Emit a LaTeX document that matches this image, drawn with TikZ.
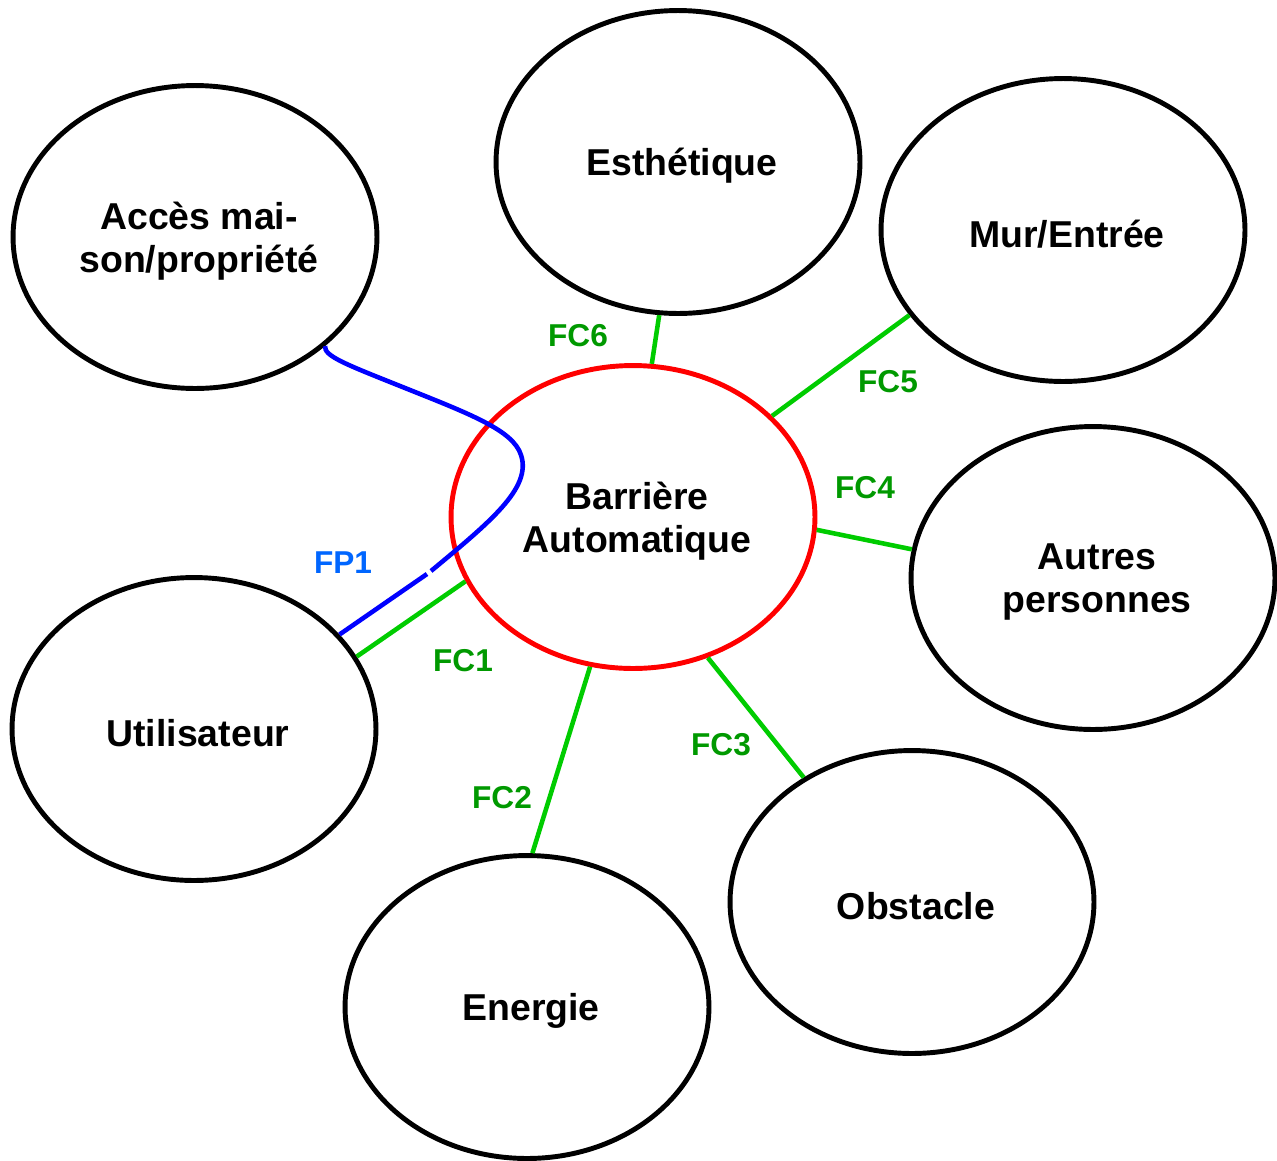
\documentclass[tikz,border=0pt]{standalone}
\usepackage{fontspec}
\setmainfont{Liberation Sans}
\usetikzlibrary{shapes.geometric}
\definecolor{lineg}{RGB}{0,204,0}
\definecolor{labg}{RGB}{0,153,0}
\definecolor{fpblue}{RGB}{0,0,255}
\definecolor{fplab}{RGB}{0,102,255}
\definecolor{bred}{RGB}{255,0,0}
\tikzset{
  ell/.style={ellipse, draw=black, line width=2.8pt, minimum width=7.28cm, minimum height=6.06cm, inner sep=0pt},
  etxt/.style={align=center, inner sep=0pt, xshift=0.08cm, yshift=-0.08cm,
    font=\fontsize{21.3}{24.5}\selectfont\bfseries},
  fcline/.style={draw=lineg, line width=2.6pt},
  fcl/.style={text=labg, font=\fontsize{18}{20}\selectfont\bfseries, inner sep=0pt},
  fpline/.style={draw=fpblue, line width=2.6pt},
}
\begin{document}
\begin{tikzpicture}[x=0.02cm, y=-0.02cm]
\useasboundingbox (0,0) rectangle (1277,1160);
% ellipses
\node[ell, label={[etxt]center:Accès mai-\\son/propriété}] (acc) at (195,237) {};
\node[ell, label={[etxt]center:Esthétique}] (est) at (678,162) {};
\node[ell, label={[etxt]center:Mur/Entrée}] (mur) at (1063,230) {};
\node[ell, label={[etxt]center:Autres\\personnes}] (aut) at (1093,578) {};
\node[ell, label={[etxt]center:Obstacle}] (obs) at (912,902) {};
\node[ell, label={[etxt]center:Energie}] (ene) at (527,1007) {};
\node[ell, label={[etxt]center:Utilisateur}] (uti) at (194,729) {};
\node[ell, draw=bred, label={[etxt]center:Barrière\\Automatique}] (bar) at (633,517) {};
% FC lines
\draw[fcline] (bar.83) -- (est.263);
\draw[fcline] (bar.36.5) -- (mur.209.3);
\draw[fcline] (bar.-4.1) -- (aut.171);
\draw[fcline] (bar.-62.5) -- (obs.131.5);
\draw[fcline] (bar.-106.2) -- (ene.88.9);
\draw[fcline] (bar.201.9) -- (uti.24);
% FP1
\coordinate (g1) at (427,574);
\coordinate (g2) at (431,571);
\draw[fpline] (uti.33.9) -- (g1);
\draw[fpline] (g2) .. controls (490,522) and (532,488) .. (521,455)
  .. controls (513,430) and (470,414) .. (400,386)
  .. controls (345,364) and (324,356) .. (acc.-40);
% labels
\node[fcl] (l6) at (578,336) {FC6};
\node[fcl] (l5) at (888,382) {FC5};
\node[fcl] (l4) at (865,488) {FC4};
\node[fcl] (l3) at (721,745) {FC3};
\node[fcl] (l2) at (502,798) {FC2};
\node[fcl] (l1) at (463,661) {FC1};
\node[fcl, text=fplab] (lp) at (343,563) {FP1};
\end{tikzpicture}
\end{document}
